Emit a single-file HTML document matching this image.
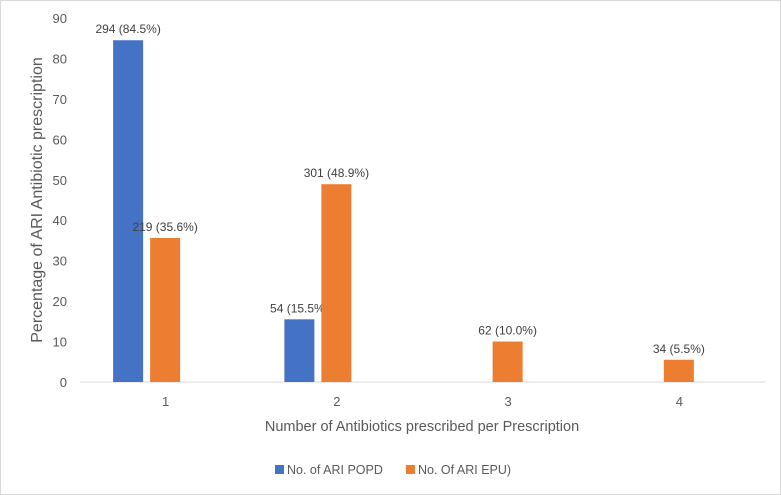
<!DOCTYPE html>
<html><head><meta charset="utf-8"><style>
body{margin:0;background:#fff;}
svg{display:block;font-family:"Liberation Sans",sans-serif;}
</style></head><body>
<svg width="781" height="495">
<rect x="0.5" y="0.5" width="780" height="494" fill="#fff" stroke="#d9d9d9"/>
<g id="plot"></g>
</svg>
<script>
const categories=["1","2","3","4"];
const popd=[84.5,15.5,null,null];
const epu=[35.6,48.9,10.0,5.5];
const popdLabels=["294 (84.5%)","54 (15.5%)","",""];
const epuLabels=["219 (35.6%)","301 (48.9%)","62 (10.0%)","34 (5.5%)"];
const yTicks=[0,10,20,30,40,50,60,70,80,90];
const NS="http://www.w3.org/2000/svg";
const g=document.getElementById('plot');
const x0=80,x1=765,y0=382,yTop=18,yMax=90;
const y=v=>y0-(v/yMax)*(y0-yTop);
const cw=(x1-x0)/categories.length;
const xc=i=>x0+cw*(i+0.5);
function mk(t,a,txt){const e=document.createElementNS(NS,t);for(const k in a)e.setAttribute(k,a[k]);if(txt!==undefined)e.textContent=txt;g.appendChild(e);return e;}
yTicks.forEach(t=>{const e=mk('text',{x:67,y:y(t)+5,'text-anchor':'end','font-size':13,fill:'#595959'},t);

});
const ax=mk('line',{x1:x0,x2:x1,y1:y0,y2:y0,stroke:'#d9d9d9','stroke-width':1});


categories.forEach((c,i)=>{
const e=mk('text',{x:xc(i),y:406,'text-anchor':'middle','font-size':13,fill:'#595959'},c);


if(popd[i]!=null){const r=mk('rect',{x:xc(i)-52.5,y:y(popd[i]),width:30,height:y0-y(popd[i]),fill:'#4472c4'});


const l=mk('text',{x:xc(i)-37.5,y:y(popd[i])-7,'text-anchor':'middle','font-size':12,fill:'#404040'},popdLabels[i]);

}
if(epu[i]!=null){const r=mk('rect',{x:xc(i)-15.5,y:y(epu[i]),width:30,height:y0-y(epu[i]),fill:'#ed7d31'});


const l=mk('text',{x:xc(i)-0.5,y:y(epu[i])-7,'text-anchor':'middle','font-size':12,fill:'#404040'},epuLabels[i]);

}
});
const xt=mk('text',{x:422,y:431,'text-anchor':'middle','font-size':14.5,fill:'#595959'},'Number of Antibiotics prescribed per Prescription');


const yt=mk('text',{x:0,y:0,transform:'translate(42,200) rotate(-90)','text-anchor':'middle','font-size':16,fill:'#595959'},'Percentage of ARI Antibiotic prescription');


const lg=[[275,'#4472c4','No. of ARI POPD'],[406,'#ed7d31','No. Of ARI EPU)']];
lg.forEach(([lx,col,t])=>{
const r=mk('rect',{x:lx,y:465,width:9,height:9,fill:col});


const e=mk('text',{x:lx+12,y:474,'font-size':12.5,fill:'#595959'},t);

});
</script>
</body></html>
